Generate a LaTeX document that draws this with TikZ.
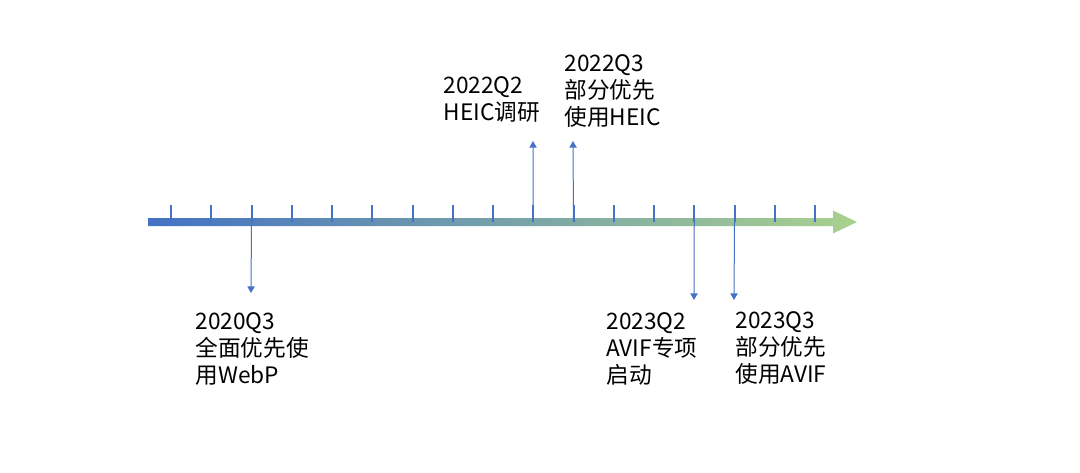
\documentclass[tikz,border=0pt]{standalone}
\usepackage{fontspec}
\setmainfont{Noto Sans CJK SC}
\usetikzlibrary{arrows.meta}

\definecolor{lineblue}{RGB}{68,114,196}
\definecolor{linegreen}{RGB}{169,209,142}

\tikzset{every picture/.style={line width=0.75pt}}
\tikzset{
  axistick/.style={draw=lineblue, line width=1.5pt},
  marker/.style={draw=lineblue, line width=0.75pt, -{Triangle[width=5.5pt,length=5pt]}},
  datelabel/.style={font=\fontsize{17}{20.25}\selectfont, align=left, inner sep=0pt, anchor=north west}
}

\begin{document}
\begin{tikzpicture}[x=0.75pt,y=0.75pt,yscale=-1,xscale=1]
\useasboundingbox (0,0) rectangle (1080,472);

%Shape: gradient axis with arrow head
\shade [left color=lineblue, right color=linegreen] (148,218) -- (833,218) -- (833,210.5) -- (857,222) -- (833,233.5) -- (833,226) -- (148,226) -- cycle ;

%Ticks
\foreach \i in {0,...,16} {
  \coordinate (t\i) at (171+40.25*\i,222);
  \draw [axistick] (t\i) -- ++(0,-17) ;
}

%Marker ends
\coordinate (e2) at (251,293);
\coordinate (e9) at (533,141);
\coordinate (e10) at (573,141);
\coordinate (e13) at (694,300);
\coordinate (e14) at (734,300);

%Markers
\draw [marker] (t2) -- (e2) ;
\draw [marker] (t9) -- (e9) ;
\draw [marker] (t10) -- (e10) ;
\draw [marker] (t13) -- (e13) ;
\draw [marker] (t14) -- (e14) ;

%Labels
\node [datelabel] (l2020q3) at (195,312) {2020Q3\\全面优先使\\用WebP};
\node [datelabel] (l2022q2) at (443,76) {2022Q2\\HEIC调研};
\node [datelabel] (l2022q3) at (564,54) {2022Q3\\部分优先\\使用HEIC};
\node [datelabel] (l2023q2) at (606,312) {2023Q2\\AVIF专项\\启动};
\node [datelabel] (l2023q3) at (735,311) {2023Q3\\部分优先\\使用AVIF};

\end{tikzpicture}
\end{document}
